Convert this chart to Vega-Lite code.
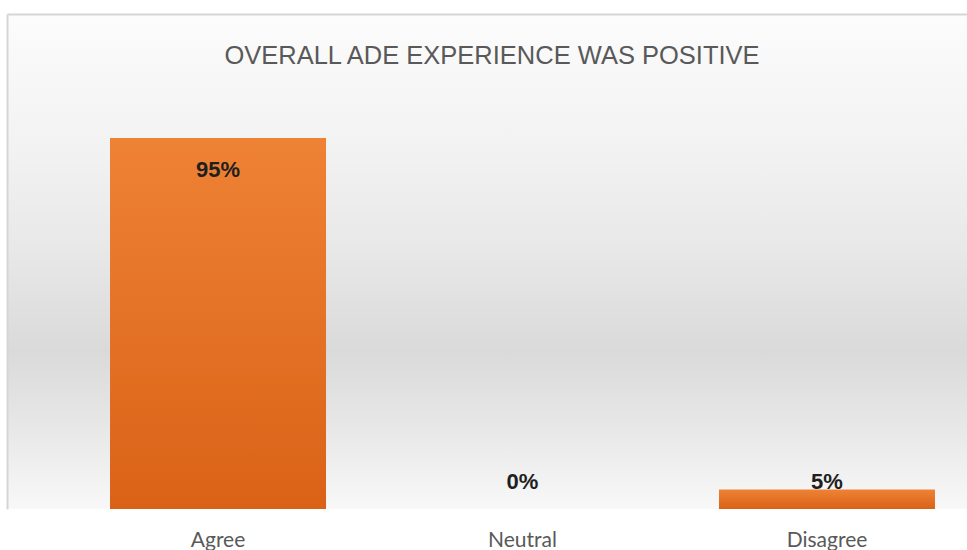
{
  "$schema": "https://vega.github.io/schema/vega-lite/v6.json",
  "width": 960,
  "height": 495,
  "autosize": {"type": "none"},
  "padding": {"left": 7, "top": 14, "right": 0, "bottom": 41},
  "background": "white",
  "title": {
    "text": "OVERALL ADE EXPERIENCE WAS POSITIVE",
    "anchor": "middle",
    "frame": "group",
    "orient": "top",
    "offset": -75,
    "baseline": "alphabetic",
    "dx": 5,
    "font": "Liberation Sans",
    "fontSize": 25.5,
    "fontWeight": "normal",
    "color": "#595959"
  },
  "config": {
    "view": {
      "stroke": null,
      "fill": {
        "gradient": "linear",
        "x1": 0, "y1": 0, "x2": 0, "y2": 1,
        "stops": [
          {"offset": 0, "color": "#fcfcfc"},
          {"offset": 0.275, "color": "#f2f2f2"},
          {"offset": 0.477, "color": "#e8e8e8"},
          {"offset": 0.68, "color": "#dadada"},
          {"offset": 0.82, "color": "#e6e6e6"},
          {"offset": 0.92, "color": "#f0f0f0"},
          {"offset": 1, "color": "#f8f8f8"}
        ]
      }
    }
  },
  "data": {
    "values": [
      {"response": "Agree", "percent": 95, "label": "95%"},
      {"response": "Neutral", "percent": 0, "label": "0%"},
      {"response": "Disagree", "percent": 5, "label": "5%"}
    ]
  },
  "encoding": {
    "x": {
      "field": "response",
      "type": "nominal",
      "sort": ["Agree", "Neutral", "Disagree"],
      "scale": {"paddingInner": 0.2906, "paddingOuter": 0.2217, "align": 0.763},
      "axis": {
        "title": null,
        "domain": false,
        "ticks": false,
        "labelAngle": 0,
        "labelFont": "Lato, Liberation Sans",
        "labelFontSize": 21,
        "labelColor": "#595959",
        "labelPadding": 20
      }
    }
  },
  "layer": [
    {
      "mark": {
        "type": "bar",
        "fill": {
          "gradient": "linear",
          "x1": 0, "y1": 0, "x2": 0, "y2": 1,
          "stops": [
            {"offset": 0, "color": "#ee8235"},
            {"offset": 1, "color": "#da6217"}
          ]
        }
      },
      "encoding": {
        "y": {
          "field": "percent",
          "type": "quantitative",
          "scale": {"domain": [0, 126.76], "nice": false},
          "axis": {
            "title": null,
            "labels": false,
            "ticks": false,
            "domain": true,
            "domainColor": "#d6d6d6",
            "domainWidth": 2,
            "grid": true,
            "values": [126.76],
            "gridColor": "#d6d6d6",
            "gridWidth": 2
          }
        }
      }
    },
    {
      "transform": [{"filter": "datum.response === 'Agree'"}],
      "mark": {
        "type": "text",
        "baseline": "alphabetic",
        "dy": 39,
        "font": "Liberation Sans",
        "fontWeight": "bold",
        "fontSize": 22,
        "color": "#1f1f1f"
      },
      "encoding": {
        "y": {"field": "percent", "type": "quantitative"},
        "text": {"field": "label"}
      }
    },
    {
      "transform": [{"filter": "datum.response !== 'Agree'"}],
      "mark": {
        "type": "text",
        "baseline": "alphabetic",
        "font": "Liberation Sans",
        "fontWeight": "bold",
        "fontSize": 22,
        "color": "#1f1f1f"
      },
      "encoding": {
        "y": {"datum": 5, "type": "quantitative"},
        "text": {"field": "label"}
      }
    }
  ]
}
